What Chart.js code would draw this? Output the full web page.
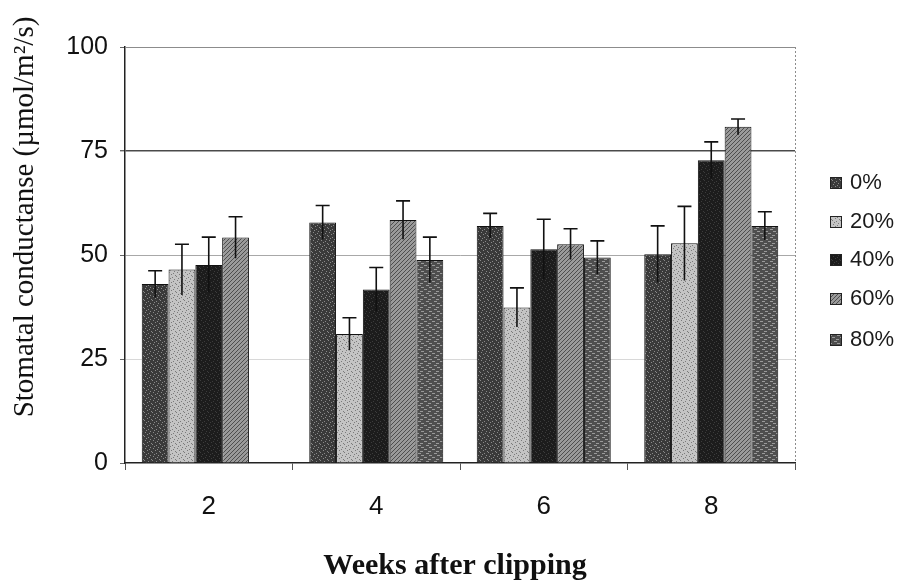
<!DOCTYPE html>
<html>
<head>
<meta charset="utf-8">
<script src="https://cdn.jsdelivr.net/npm/chart.js@4.4.1/dist/chart.umd.min.js"></script>
<style>
  html, body { margin: 0; padding: 0; background: #ffffff; }
  #wrap { width: 902px; height: 585px; position: relative; }
</style>
</head>
<body>
<div id="wrap"><canvas id="chart" width="902" height="585"></canvas></div>
<script>
// Weeks after clipping
const weeks = ['2', '4', '6', '8'];

// Mean stomatal conductance per clipping intensity
const cond0  = [43.0, 57.8, 57.0, 50.2];
const cond20 = [46.5, 31.0, 37.4, 52.8];
const cond40 = [47.6, 41.7, 51.4, 72.8];
const cond60 = [54.2, 58.4, 52.6, 80.8];
const cond80 = [null, 48.8, 49.4, 57.0];

// Error bar half-lengths
const err0  = [3.2, 4.1, 3.0, 6.8];
const err20 = [6.1, 3.9, 4.7, 8.9];
const err40 = [6.7, 5.3, 7.2, 4.4];
const err60 = [5.0, 4.6, 3.7, 1.9];
const err80 = [null, 5.5, 4.0, 3.4];

const seriesLabels = ['0%', '20%', '40%', '60%', '80%'];
const yTicks = [0, 25, 50, 75, 100];

// Small deterministic textures for the bar fills
function makePattern(base, ink, kind) {
  const c = document.createElement('canvas');
  c.width = 8; c.height = 8;
  const g = c.getContext('2d');
  g.fillStyle = base;
  g.fillRect(0, 0, 8, 8);
  g.fillStyle = ink;
  if (kind === 'speck') {
    [[1,0],[5,1],[3,2],[7,3],[0,4],[4,5],[2,6],[6,7]].forEach(p => g.fillRect(p[0], p[1], 1, 1));
  } else if (kind === 'diag') {
    for (let i = 0; i < 8; i++) { g.fillRect(i, 7 - i, 1, 1); g.fillRect((i + 4) % 8, 7 - i, 1, 1); }
  } else if (kind === 'streak') {
    g.fillRect(0, 1, 3, 1); g.fillRect(4, 3, 3, 1); g.fillRect(2, 5, 3, 1); g.fillRect(5, 7, 3, 1);
  }
  return g.createPattern(c, 'repeat');
}

const fills = [
  makePattern('#3a3a3a', '#8a8a8a', 'speck'),
  makePattern('#c4c4c4', '#7a7a7a', 'speck'),
  makePattern('#1c1c1c', '#3c3c3c', 'speck'),
  makePattern('#9a9a9a', '#4e4e4e', 'diag'),
  makePattern('#4e4e4e', '#9a9a9a', 'streak')
];

const values = [cond0, cond20, cond40, cond60, cond80];
const errors = [err0, err20, err40, err60, err80];

const datasets = values.map((v, i) => ({
  label: seriesLabels[i],
  data: v,
  errors: errors[i],
  backgroundColor: fills[i],
  borderColor: '#111111',
  borderWidth: 1,
  categoryPercentage: 0.8,
  barPercentage: 1.0
}));

// Error bars drawn from the bar elements and the y scale
const errorBars = {
  id: 'errorBars',
  afterDatasetsDraw(chart) {
    const ctx = chart.ctx;
    const y = chart.scales.y;
    ctx.save();
    ctx.strokeStyle = '#111111';
    ctx.lineWidth = 1.6;
    chart.data.datasets.forEach((ds, di) => {
      const meta = chart.getDatasetMeta(di);
      meta.data.forEach((bar, i) => {
        const v = ds.data[i], e = ds.errors[i];
        if (v == null || e == null) return;
        const x = bar.x;
        const yt = y.getPixelForValue(v + e);
        const yb = y.getPixelForValue(v - e);
        ctx.beginPath();
        ctx.moveTo(x, yb); ctx.lineTo(x, yt);
        ctx.moveTo(x - 7, yt); ctx.lineTo(x + 7, yt);
        ctx.stroke();
      });
    });
    ctx.restore();
  }
};

// Plot frame, axis titles and the legend
const decorations = {
  id: 'decorations',
  beforeDatasetsDraw(chart) {
    const { ctx, chartArea: a } = chart;
    ctx.save();
    ctx.strokeStyle = '#8c8c8c';
    ctx.lineWidth = 1;
    ctx.beginPath();
    ctx.moveTo(a.left, a.top + 0.5); ctx.lineTo(a.right, a.top + 0.5);
    ctx.stroke();
    ctx.setLineDash([2, 2]);
    ctx.beginPath();
    ctx.moveTo(a.right + 0.5, a.top); ctx.lineTo(a.right + 0.5, a.bottom);
    ctx.stroke();
    ctx.restore();
  },
  afterDraw(chart) {
    const { ctx } = chart;
    ctx.save();
    ctx.fillStyle = '#111111';
    // y title
    ctx.translate(25, 217);
    ctx.rotate(-Math.PI / 2);
    ctx.font = '29px "Liberation Serif", "Times New Roman", serif';
    ctx.textAlign = 'center';
    ctx.textBaseline = 'middle';
    ctx.fillText('Stomatal conductanse (\u00b5mol/m\u00b2/s)', 0, 0);
    ctx.restore();

    ctx.save();
    ctx.fillStyle = '#111111';
    ctx.font = 'bold 30px "Liberation Serif", "Times New Roman", serif';
    ctx.textAlign = 'center';
    ctx.textBaseline = 'middle';
    ctx.fillText('Weeks after clipping', 455, 566);
    ctx.restore();

    // legend
    ctx.save();
    ctx.font = '22px "Liberation Sans", Arial, sans-serif';
    ctx.textBaseline = 'middle';
    ctx.textAlign = 'left';
    const rows = [182, 221, 259, 298, 339];
    chart.data.datasets.forEach((ds, i) => {
      const cy = rows[i];
      ctx.fillStyle = ds.backgroundColor;
      ctx.fillRect(830, cy - 5, 11, 11);
      ctx.strokeStyle = '#222';
      ctx.lineWidth = 1;
      ctx.strokeRect(830.5, cy - 4.5, 11, 11);
      ctx.fillStyle = '#1a1a1a';
      ctx.fillText(ds.label, 850, cy + 1);
    });
    ctx.restore();
  }
};

new Chart(document.getElementById('chart'), {
  type: 'bar',
  data: { labels: weeks, datasets },
  options: {
    responsive: false,
    animation: false,
    devicePixelRatio: 1,
    layout: { padding: { left: 0, right: 107, top: 47, bottom: 0 } },
    plugins: { legend: { display: false }, tooltip: { enabled: false } },
    scales: {
      x: {
        grid: { display: true, drawOnChartArea: false, offset: true, tickLength: 7, color: '#555' },
        border: { display: true, color: '#222', width: 1.5 },
        ticks: { color: '#111', padding: 21, font: { family: '"Liberation Sans", Arial, sans-serif', size: 26 } },
        afterFit(s) { s.height = 122; }
      },
      y: {
        min: 0, max: 100,
        afterBuildTicks(s) { s.ticks = yTicks.map(v => ({ value: v })); },
        grid: {
          color(c) {
            const v = c.tick && c.tick.value;
            if (v === 75) return '#4a4a4a';
            if (v === 50) return '#a8a8a8';
            if (v === 25) return '#d8d8d8';
            return 'rgba(0,0,0,0)';
          },
          lineWidth(c) { return c.tick && c.tick.value === 75 ? 1.4 : 1; },
          drawTicks: true, tickLength: 5, tickColor: '#666'
        },
        border: { display: true, color: '#222', width: 1.5 },
        ticks: { color: '#111', padding: 12, font: { family: '"Liberation Sans", Arial, sans-serif', size: 25 } },
        afterFit(s) { s.width = 125; }
      }
    }
  },
  plugins: [errorBars, decorations]
});
</script>
</body>
</html>
